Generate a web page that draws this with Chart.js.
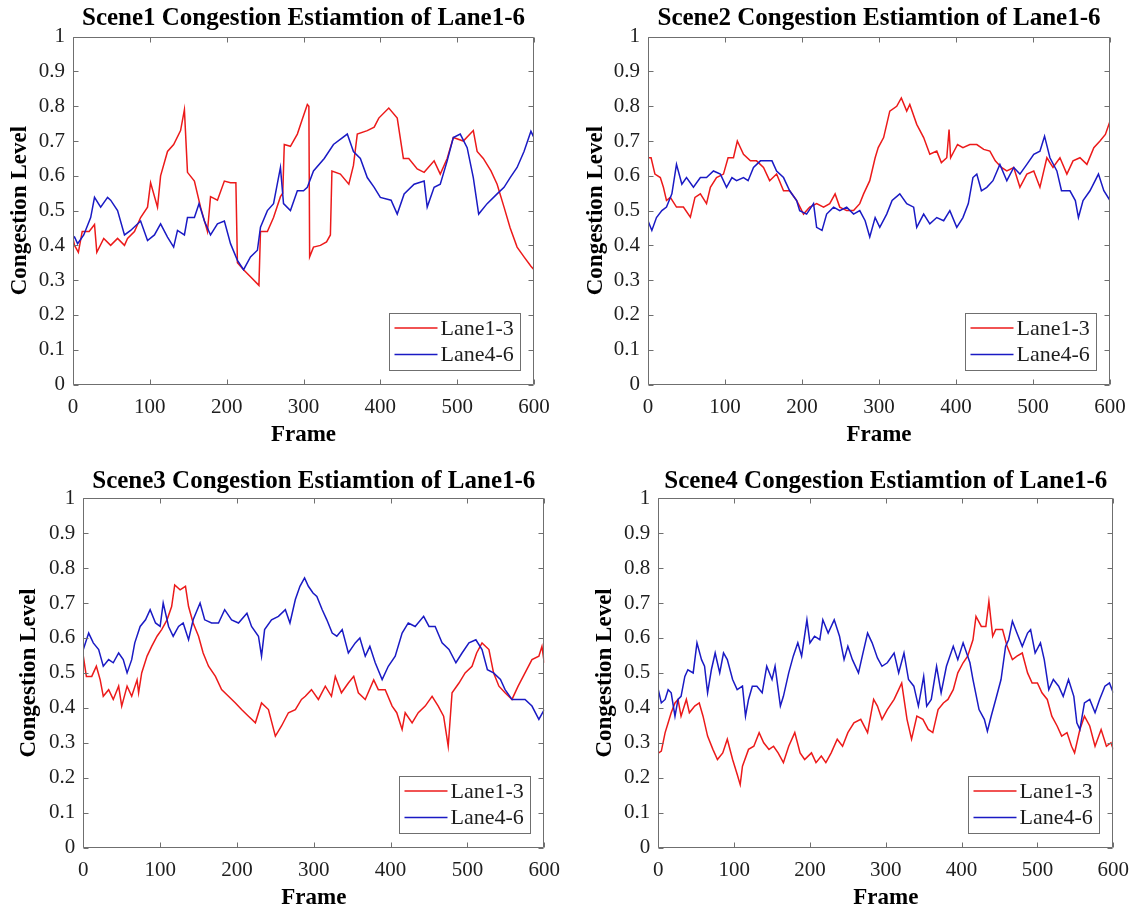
<!DOCTYPE html>
<html><head><meta charset="utf-8">
<script src="https://cdn.jsdelivr.net/npm/chart.js@4"></script>
<style>
html,body{margin:0;padding:0;background:#fff;width:1141px;height:911px;overflow:hidden}
canvas{position:absolute}
</style></head><body>
<canvas id="c1"></canvas><canvas id="c2"></canvas><canvas id="c3"></canvas><canvas id="c4"></canvas>
<script>
// ---------- data ----------
const frameTicks = [0, 100, 200, 300, 400, 500, 600];
const levelTicks = ['0','0.1','0.2','0.3','0.4','0.5','0.6','0.7','0.8','0.9','1'];
const seriesNames = ['Lane1-3', 'Lane4-6'];
const panelTitles = [
  'Scene1 Congestion Estiamtion of Lane1-6',
  'Scene2 Congestion Estiamtion of Lane1-6',
  'Scene3 Congestion Estiamtion of Lane1-6',
  'Scene4 Congestion Estiamtion of Lane1-6'
];
const xTitle = 'Frame';
const yTitle = 'Congestion Level';

// [frame, level]
const scene1Lane13 = [[0,0.42],[2,0.40],[7,0.38],[12,0.44],[21,0.44],[28,0.46],[31,0.38],[40,0.42],[49,0.40],[58,0.42],[67,0.40],[71,0.42],[80,0.44],[88,0.48],[97,0.51],[101,0.58],[110,0.51],[114,0.60],[123,0.67],[131,0.69],[140,0.73],[145,0.79],[149,0.61],[158,0.585],[166,0.51],[175,0.44],[179,0.54],[188,0.53],[197,0.585],[205,0.58],[212,0.58],[214,0.35],[222,0.33],[231,0.31],[242,0.285],[244,0.44],[253,0.44],[261,0.48],[270,0.54],[273,0.55],[275,0.69],[283,0.685],[292,0.72],[298,0.76],[305,0.805],[307,0.80],[308,0.367],[313,0.395],[322,0.40],[330,0.41],[335,0.43],[337,0.614],[348,0.605],[359,0.576],[365,0.63],[370,0.72],[383,0.73],[392,0.74],[398,0.766],[411,0.795],[422,0.766],[430,0.65],[437,0.65],[448,0.62],[457,0.61],[470,0.643],[478,0.605],[487,0.65],[495,0.71],[508,0.70],[521,0.73],[526,0.67],[534,0.65],[544,0.614],[552,0.576],[561,0.51],[569,0.45],[578,0.395],[587,0.367],[596,0.34],[600,0.33]];
const scene1Lane46 = [[0,0.42],[2,0.424],[6,0.405],[14,0.43],[23,0.48],[28,0.538],[36,0.51],[45,0.538],[49,0.53],[58,0.50],[67,0.43],[75,0.443],[88,0.47],[97,0.414],[106,0.43],[114,0.462],[123,0.424],[131,0.395],[136,0.443],[145,0.43],[149,0.48],[158,0.48],[164,0.52],[171,0.47],[179,0.43],[188,0.462],[197,0.47],[205,0.405],[214,0.357],[222,0.33],[231,0.367],[240,0.386],[244,0.452],[253,0.50],[261,0.52],[270,0.624],[274,0.52],[283,0.50],[292,0.557],[300,0.557],[305,0.567],[313,0.614],[327,0.65],[339,0.69],[357,0.72],[365,0.67],[374,0.65],[383,0.595],[392,0.567],[400,0.538],[414,0.53],[422,0.49],[431,0.548],[444,0.576],[457,0.585],[461,0.51],[470,0.567],[478,0.576],[487,0.643],[495,0.71],[504,0.72],[513,0.681],[521,0.595],[528,0.49],[539,0.52],[552,0.548],[561,0.567],[569,0.595],[578,0.624],[587,0.67],[596,0.728],[600,0.71]];

const scene2Lane13 = [[0,0.652],[4,0.652],[9,0.605],[16,0.595],[20,0.567],[24,0.529],[29,0.538],[37,0.51],[46,0.51],[55,0.481],[61,0.538],[68,0.548],[76,0.52],[81,0.567],[89,0.595],[98,0.605],[104,0.652],[111,0.652],[116,0.70],[124,0.662],[133,0.643],[141,0.643],[150,0.624],[158,0.586],[167,0.605],[176,0.557],[184,0.557],[193,0.529],[202,0.49],[210,0.51],[219,0.52],[228,0.51],[236,0.52],[243,0.548],[249,0.51],[258,0.50],[267,0.50],[275,0.52],[280,0.548],[288,0.586],[295,0.652],[299,0.681],[306,0.71],[314,0.786],[323,0.80],[329,0.824],[336,0.786],[340,0.805],[349,0.748],[358,0.71],[366,0.662],[375,0.671],[381,0.638],[388,0.652],[391,0.733],[393,0.652],[402,0.69],[409,0.681],[418,0.69],[427,0.69],[436,0.676],[444,0.671],[451,0.643],[459,0.624],[466,0.614],[475,0.624],[483,0.567],[492,0.605],[501,0.614],[509,0.567],[518,0.652],[526,0.624],[535,0.652],[544,0.605],[552,0.643],[561,0.652],[570,0.633],[579,0.681],[587,0.70],[594,0.719],[600,0.757]];
const scene2Lane46 = [[0,0.471],[5,0.443],[11,0.48],[18,0.50],[24,0.51],[31,0.548],[37,0.633],[44,0.576],[50,0.595],[59,0.567],[68,0.595],[76,0.595],[85,0.614],[94,0.605],[102,0.567],[109,0.595],[115,0.586],[124,0.595],[130,0.586],[137,0.624],[146,0.643],[154,0.643],[161,0.643],[167,0.614],[176,0.595],[184,0.557],[193,0.529],[197,0.50],[206,0.49],[215,0.52],[219,0.452],[226,0.443],[232,0.49],[241,0.51],[249,0.50],[258,0.51],[267,0.49],[275,0.50],[282,0.471],[288,0.424],[295,0.48],[301,0.452],[310,0.49],[317,0.529],[327,0.548],[336,0.52],[345,0.51],[349,0.452],[358,0.49],[366,0.462],[375,0.48],[384,0.471],[392,0.50],[401,0.452],[409,0.48],[416,0.52],[422,0.595],[427,0.605],[433,0.557],[440,0.567],[448,0.586],[457,0.633],[466,0.586],[475,0.624],[483,0.605],[492,0.633],[501,0.662],[509,0.671],[515,0.714],[522,0.652],[531,0.614],[537,0.557],[548,0.557],[555,0.529],[559,0.48],[565,0.529],[574,0.557],[585,0.605],[592,0.557],[600,0.529]];

const scene3Lane13 = [[0,0.548],[4,0.49],[11,0.49],[17,0.519],[22,0.48],[26,0.433],[33,0.452],[39,0.424],[46,0.462],[50,0.405],[57,0.462],[63,0.433],[70,0.48],[72,0.443],[76,0.50],[83,0.548],[89,0.576],[96,0.605],[102,0.624],[109,0.652],[115,0.69],[119,0.752],[126,0.738],[133,0.748],[137,0.69],[143,0.643],[150,0.605],[156,0.557],[163,0.519],[172,0.49],[180,0.452],[189,0.433],[198,0.414],[206,0.395],[215,0.376],[224,0.357],[232,0.414],[241,0.395],[250,0.319],[258,0.348],[267,0.386],[276,0.395],[284,0.424],[289,0.433],[297,0.452],[306,0.424],[315,0.462],[323,0.433],[328,0.49],[336,0.443],[345,0.471],[352,0.49],[358,0.443],[367,0.424],[378,0.48],[384,0.452],[393,0.452],[402,0.405],[408,0.386],[415,0.338],[419,0.386],[428,0.357],[436,0.386],[445,0.405],[454,0.433],[462,0.405],[469,0.376],[475,0.29],[480,0.443],[489,0.471],[497,0.50],[506,0.519],[512,0.557],[519,0.586],[528,0.567],[534,0.50],[541,0.462],[549,0.443],[558,0.424],[566,0.462],[575,0.50],[584,0.538],[593,0.548],[597,0.576],[600,0.529]];
const scene3Lane46 = [[0,0.567],[7,0.614],[13,0.586],[20,0.567],[26,0.519],[33,0.538],[39,0.529],[46,0.557],[52,0.538],[57,0.50],[63,0.538],[67,0.586],[74,0.633],[81,0.652],[87,0.681],[94,0.643],[100,0.633],[104,0.70],[111,0.633],[117,0.605],[124,0.633],[130,0.643],[137,0.595],[143,0.652],[152,0.70],[158,0.652],[167,0.643],[176,0.643],[184,0.681],[193,0.652],[202,0.643],[213,0.671],[219,0.633],[228,0.605],[232,0.548],[236,0.624],[245,0.652],[254,0.662],[263,0.681],[269,0.643],[276,0.71],[282,0.748],[288,0.772],[293,0.748],[299,0.729],[304,0.719],[311,0.681],[317,0.652],[324,0.614],[330,0.605],[337,0.624],[345,0.557],[354,0.586],[360,0.60],[367,0.548],[373,0.576],[380,0.529],[389,0.481],[397,0.519],[406,0.548],[415,0.614],[423,0.643],[432,0.633],[443,0.662],[450,0.633],[458,0.633],[467,0.586],[476,0.567],[485,0.529],[493,0.557],[502,0.586],[511,0.595],[519,0.567],[526,0.509],[534,0.50],[543,0.481],[549,0.452],[558,0.424],[566,0.424],[575,0.424],[584,0.405],[593,0.367],[600,0.395]];

const scene4Lane13 = [[0,0.27],[4,0.276],[9,0.329],[13,0.357],[17,0.386],[22,0.414],[26,0.424],[30,0.376],[37,0.424],[41,0.386],[48,0.405],[54,0.414],[59,0.376],[65,0.319],[72,0.281],[78,0.252],[85,0.271],[91,0.31],[98,0.252],[104,0.21],[108,0.18],[111,0.233],[119,0.281],[126,0.29],[133,0.329],[139,0.30],[146,0.281],[152,0.29],[158,0.271],[165,0.243],[172,0.29],[180,0.329],[187,0.271],[193,0.252],[202,0.271],[208,0.243],[215,0.262],[221,0.243],[228,0.271],[236,0.31],[243,0.29],[250,0.329],[258,0.357],[267,0.367],[276,0.329],[284,0.424],[289,0.405],[295,0.367],[302,0.395],[311,0.424],[317,0.452],[321,0.471],[328,0.367],[334,0.31],[341,0.376],[349,0.367],[356,0.338],[362,0.329],[369,0.395],[376,0.414],[382,0.424],[389,0.452],[395,0.50],[402,0.529],[408,0.548],[415,0.595],[419,0.662],[426,0.633],[432,0.633],[436,0.705],[441,0.605],[445,0.624],[454,0.624],[460,0.576],[467,0.538],[473,0.548],[480,0.557],[487,0.50],[493,0.471],[500,0.471],[506,0.443],[513,0.424],[519,0.376],[526,0.348],[532,0.319],[539,0.329],[545,0.29],[549,0.271],[556,0.338],[562,0.376],[569,0.348],[576,0.29],[584,0.338],[591,0.29],[597,0.30],[600,0.281]];
const scene4Lane46 = [[0,0.452],[4,0.414],[9,0.424],[13,0.452],[17,0.443],[22,0.376],[26,0.424],[30,0.433],[35,0.49],[39,0.509],[46,0.50],[51,0.586],[57,0.538],[61,0.519],[65,0.443],[70,0.509],[75,0.557],[81,0.50],[86,0.557],[91,0.538],[98,0.481],[104,0.452],[111,0.462],[115,0.376],[119,0.424],[124,0.462],[130,0.462],[137,0.443],[143,0.519],[150,0.481],[154,0.519],[161,0.405],[165,0.433],[172,0.50],[178,0.548],[184,0.586],[189,0.548],[196,0.652],[200,0.586],[206,0.605],[213,0.595],[217,0.652],[224,0.614],[232,0.652],[239,0.605],[245,0.538],[250,0.576],[256,0.538],[264,0.50],[269,0.548],[276,0.614],[282,0.586],[289,0.543],[295,0.519],[302,0.529],[311,0.557],[317,0.50],[324,0.557],[330,0.481],[337,0.462],[343,0.405],[350,0.49],[354,0.405],[360,0.424],[367,0.519],[373,0.443],[380,0.519],[389,0.576],[395,0.538],[402,0.586],[411,0.529],[415,0.481],[423,0.395],[430,0.367],[434,0.333],[439,0.376],[445,0.424],[452,0.481],[458,0.576],[462,0.595],[467,0.648],[473,0.614],[480,0.576],[487,0.614],[491,0.624],[497,0.557],[504,0.586],[509,0.538],[515,0.452],[521,0.481],[528,0.462],[534,0.433],[541,0.481],[548,0.433],[552,0.357],[556,0.338],[562,0.414],[569,0.424],[576,0.386],[582,0.424],[589,0.462],[595,0.471],[600,0.443]];

// ---------- styling / layout ----------
const RED = '#ec1a1a';
const BLUE = '#1a1ac4';
const AXIS_COLOR = '#6f6f6f';
const TEXT_COLOR = '#1e1e1e';
const SERIF = "'Liberation Serif', 'Times New Roman', serif";
const TICK_SIZE = 21;
const LEGEND_SIZE = 22;
const TITLE_SIZE = 25;
const BOLD_SIZE = 23;

// page coordinates of each panel
const panels = [
  {id:'c1', x:0,   y:0,   w:572, h:455, L:73,    T:36.7,  R:534,    B:384.5, titleY:18.5, levelX:20,  frameY:435, title:panelTitles[0], s:[scene1Lane13, scene1Lane46]},
  {id:'c2', x:572, y:0,   w:569, h:455, L:648,   T:36.7,  R:1110,   B:384.5, titleY:18.5, levelX:596, frameY:435, title:panelTitles[1], s:[scene2Lane13, scene2Lane46]},
  {id:'c3', x:0,   y:455, w:572, h:456, L:83.3,  T:498.3, R:544.3,  B:847.5, titleY:482,  levelX:29,  frameY:898, title:panelTitles[2], s:[scene3Lane13, scene3Lane46]},
  {id:'c4', x:572, y:455, w:569, h:456, L:658.3, T:498.3, R:1119.3, B:847.5, titleY:482,  levelX:605, frameY:898, title:panelTitles[3], s:[scene4Lane13, scene4Lane46]}
];

const boxAndTicks = {
  id: 'boxAndTicks',
  afterDatasetsDraw(chart) {
    const {ctx, chartArea: a, scales: {x, y}} = chart;
    const l = Math.round(a.left) + 0.5, r = Math.round(a.right) - 0.5;
    const t = Math.round(a.top) + 0.5, b = Math.round(a.bottom) - 0.5;
    ctx.save();
    ctx.strokeStyle = AXIS_COLOR;
    ctx.lineWidth = 1;
    ctx.beginPath();
    ctx.rect(l, t, r - l, b - t);
    const len = 5;
    x.ticks.forEach(tk => {
      const px = Math.round(x.getPixelForValue(tk.value)) + 0.5;
      ctx.moveTo(px, b); ctx.lineTo(px, b - len);
      ctx.moveTo(px, t); ctx.lineTo(px, t + len);
    });
    y.ticks.forEach(tk => {
      const py = Math.round(y.getPixelForValue(tk.value)) + 0.5;
      ctx.moveTo(l, py); ctx.lineTo(l + len, py);
      ctx.moveTo(r, py); ctx.lineTo(r - len, py);
    });
    ctx.stroke();
    ctx.restore();
  }
};

const boxLegend = {
  id: 'boxLegend',
  afterDraw(chart) {
    const {ctx, chartArea: a} = chart;
    const w = 131, h = 57;
    const bx = Math.round(a.right - 14 - w) + 0.5, by = Math.round(a.bottom - 15 - h) + 0.5;
    ctx.save();
    ctx.fillStyle = '#fff';
    ctx.fillRect(bx, by, w, h);
    ctx.strokeStyle = AXIS_COLOR;
    ctx.lineWidth = 1;
    ctx.strokeRect(bx, by, w, h);
    ctx.font = LEGEND_SIZE + 'px ' + SERIF;
    ctx.textBaseline = 'middle';
    ctx.textAlign = 'left';
    chart.data.datasets.forEach((ds, i) => {
      const cy = by + 14.5 + i * 26.5;
      ctx.strokeStyle = ds.borderColor;
      ctx.lineWidth = 1.5;
      ctx.beginPath();
      ctx.moveTo(bx + 5, cy); ctx.lineTo(bx + 48, cy);
      ctx.stroke();
      ctx.fillStyle = TEXT_COLOR;
      ctx.fillText(ds.label, bx + 51, cy + 1);
    });
    ctx.restore();
  }
};

function makePanel(p) {
  const cv = document.getElementById(p.id);
  cv.width = p.w; cv.height = p.h;
  cv.style.left = p.x + 'px'; cv.style.top = p.y + 'px';
  cv.style.width = p.w + 'px'; cv.style.height = p.h + 'px';
  const aL = p.L - p.x, aT = p.T - p.y, aR = p.R - p.x, aB = p.B - p.y;
  const half = BOLD_SIZE / 2;
  const titleTop = p.titleY - p.y - TITLE_SIZE / 2;
  const tickFont = {family: SERIF, size: TICK_SIZE, lineHeight: 1};
  const boldFont = {family: SERIF, size: BOLD_SIZE, weight: 'bold', lineHeight: 1};
  const titleFont = {family: SERIF, size: TITLE_SIZE, weight: 'bold', lineHeight: 1};
  new Chart(cv, {
    type: 'line',
    data: {
      datasets: [
        {label: seriesNames[0], data: p.s[0].map(([f, v]) => ({x: f, y: v})), borderColor: RED, order: 1},
        {label: seriesNames[1], data: p.s[1].map(([f, v]) => ({x: f, y: v})), borderColor: BLUE, order: 0}
      ].map(d => Object.assign(d, {borderWidth: 1.5, pointRadius: 0, tension: 0, fill: false}))
    },
    options: {
      responsive: false, animation: false, devicePixelRatio: 1,
      layout: {padding: {left: 0, top: 0, right: p.w - aR, bottom: 0}},
      plugins: {
        legend: {display: false},
        tooltip: {enabled: false},
        title: {
          display: true, text: p.title, fullSize: false, color: '#000', font: titleFont,
          padding: {top: titleTop, bottom: aT - TITLE_SIZE - titleTop}
        }
      },
      scales: {
        x: {
          type: 'linear', min: 0, max: 600,
          afterFit: s => { s.height = p.h - aB; },
          afterBuildTicks: s => { s.ticks = frameTicks.map(v => ({value: v})); },
          ticks: {font: tickFont, color: TEXT_COLOR, padding: 12, maxRotation: 0, callback: v => String(v)},
          grid: {display: false, drawTicks: false},
          border: {display: false},
          title: {display: true, text: xTitle, color: '#000', font: boldFont,
                  padding: {top: 0, bottom: p.h - (p.frameY - p.y) - half}}
        },
        y: {
          type: 'linear', min: 0, max: 1,
          afterFit: s => { s.width = aL; },
          afterBuildTicks: s => { s.ticks = levelTicks.map((lab, i) => ({value: i / 10})); },
          ticks: {font: tickFont, color: TEXT_COLOR, padding: 8, callback: v => levelTicks[Math.round(v * 10)]},
          grid: {display: false, drawTicks: false},
          border: {display: false},
          title: {display: true, text: yTitle, color: '#000', font: boldFont,
                  padding: {top: p.levelX - p.x - half, bottom: 0}}
        }
      }
    },
    plugins: [boxAndTicks, boxLegend]
  });
}
panels.forEach(makePanel);
</script>
</body></html>
